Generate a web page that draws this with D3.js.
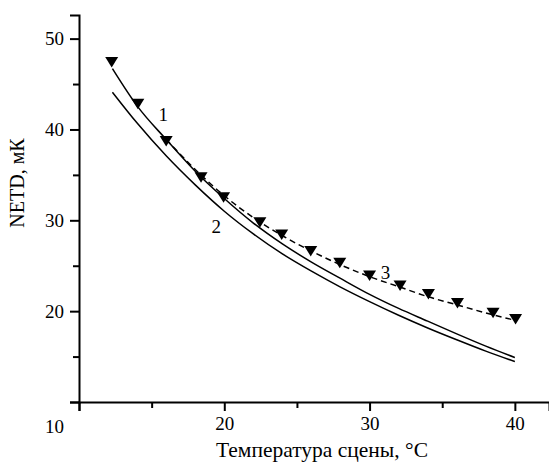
<!DOCTYPE html>
<html lang="ru">
  <head>
    <meta charset="UTF-8">
    <script src="https://cdn.jsdelivr.net/npm/d3@7"></script>
    <style>
      body { margin: 0; background: #fff; }
      .axis path, .axis line { stroke: #000; stroke-width: 2px; }
      .curve { fill: none; stroke: #000; stroke-width: 1.5px; }
    </style>
  </head>
  <body>
    <div id="chart"></div>
  </body>
  <script>
    // tick values
    var xTicks = [10, 20, 30, 40];
    var xMinor = [15, 25, 35];
    var yTicks = [10, 20, 30, 40, 50];
    var yMinor = [15, 25, 35, 45];

    // curve 1 and 2 (solid)
    var solidT = [12.3, 14, 16, 18, 20, 22, 24, 26, 28, 30, 32, 34, 36, 38, 40];
    var curve1 = [46.7, 42.6, 38.9, 35.4, 32.4, 29.7, 27.4, 25.4, 23.6, 21.85, 20.3, 18.9, 17.5, 16.15, 14.9];
    var curve2 = [44.1, 40.7, 37.1, 33.9, 31.0, 28.5, 26.3, 24.4, 22.65, 21.05, 19.55, 18.15, 16.85, 15.6, 14.45];

    // curve 3 (dashed)
    var dashT = [16, 18, 20, 22, 24, 26, 28, 30, 32, 34, 36, 38, 40];
    var curve3 = [38.9, 35.6, 32.7, 30.3, 28.3, 26.6, 25.1, 23.8, 22.7, 21.6, 20.7, 19.8, 19.0];

    // measured points (triangles)
    var pointT = [12.25, 14.05, 16, 18.4, 19.95, 22.45, 23.95, 25.95, 27.95, 30, 32.1, 34.05, 36.05, 38.5, 40.05];
    var pointN = [47.6, 43.0, 38.9, 34.9, 32.7, 29.95, 28.6, 26.8, 25.5, 24.1, 23.0, 22.05, 21.05, 20.0, 19.3];

    var serif = "'Liberation Serif', 'Times New Roman', 'DejaVu Serif', serif";
    var width = 549, height = 462;
    var x = d3.scaleLinear().domain([10, 42.35]).range([79, 549]);
    var y = d3.scaleLinear().domain([10, 52.6]).range([402, 15]);

    var svg = d3.select("#chart").append("svg")
      .attr("width", width).attr("height", height);

    // minor ticks first, under the axes
    svg.append("g").attr("class", "axis")
      .attr("transform", "translate(0," + y(10) + ")")
      .call(d3.axisBottom(x).tickValues(xMinor).tickSize(6).tickFormat(""))
      .select(".domain").remove();
    svg.append("g").attr("class", "axis")
      .attr("transform", "translate(" + x(10) + ",0)")
      .call(d3.axisLeft(y).tickValues(yMinor).tickSize(6).tickFormat(""))
      .select(".domain").remove();

    var xAxis = svg.append("g").attr("class", "axis")
      .attr("transform", "translate(0," + y(10) + ")")
      .call(d3.axisBottom(x).tickValues(xTicks).tickSizeOuter(0).tickSize(9).tickPadding(6)
        .tickFormat(function (d) { return d === 10 ? "" : d; }));

    var yAxis = svg.append("g").attr("class", "axis")
      .attr("transform", "translate(" + x(10) + ",0)")
      .call(d3.axisLeft(y).tickValues(yTicks).tickSizeOuter(0).tickSize(9).tickPadding(6)
        .tickFormat(function (d) { return d === 10 ? "" : d; }));

    svg.selectAll(".axis").attr("font-family", serif).attr("font-size", 19);

    // shared corner label
    svg.append("text")
      .attr("x", x(10) - 15).attr("y", y(10) + 31)
      .attr("text-anchor", "end")
      .attr("font-family", serif).attr("font-size", 19)
      .text("10");

    var line = d3.line()
      .x(function (d) { return x(d[0]); })
      .y(function (d) { return y(d[1]); })
      .curve(d3.curveMonotoneX);

    svg.append("path").attr("class", "curve")
      .attr("d", line(d3.zip(solidT, curve1)));
    svg.append("path").attr("class", "curve")
      .attr("d", line(d3.zip(solidT, curve2)));
    svg.append("path").attr("class", "curve")
      .attr("stroke-dasharray", "6,4")
      .attr("d", line(d3.zip(dashT, curve3)));

    svg.append("g").selectAll("path")
      .data(d3.zip(pointT, pointN))
      .enter().append("path")
      .attr("transform", function (d) { return "translate(" + x(d[0]) + "," + y(d[1]) + ")"; })
      .attr("d", "M-6.5,-3.5L6.5,-3.5L0,7Z")
      .attr("fill", "#000");

    // curve numbers
    var labels = [["1", 15.8, 41.7], ["2", 19.45, 29.3], ["3", 31.1, 24.3]];
    svg.append("g").selectAll("text")
      .data(labels)
      .enter().append("text")
      .attr("x", function (d) { return x(d[1]); })
      .attr("y", function (d) { return y(d[2]); })
      .attr("dy", "0.35em")
      .attr("text-anchor", "middle")
      .attr("font-family", serif).attr("font-size", 19)
      .text(function (d) { return d[0]; });

    svg.append("text")
      .attr("x", 322).attr("y", 457)
      .attr("text-anchor", "middle")
      .attr("font-family", serif).attr("font-size", 21.5)
      .text("Температура сцены, °C");

    svg.append("text")
      .attr("transform", "translate(24,183) rotate(-90)")
      .attr("text-anchor", "middle")
      .attr("font-family", serif).attr("font-size", 20)
      .text("NETD, мК");
  </script>
</html>
